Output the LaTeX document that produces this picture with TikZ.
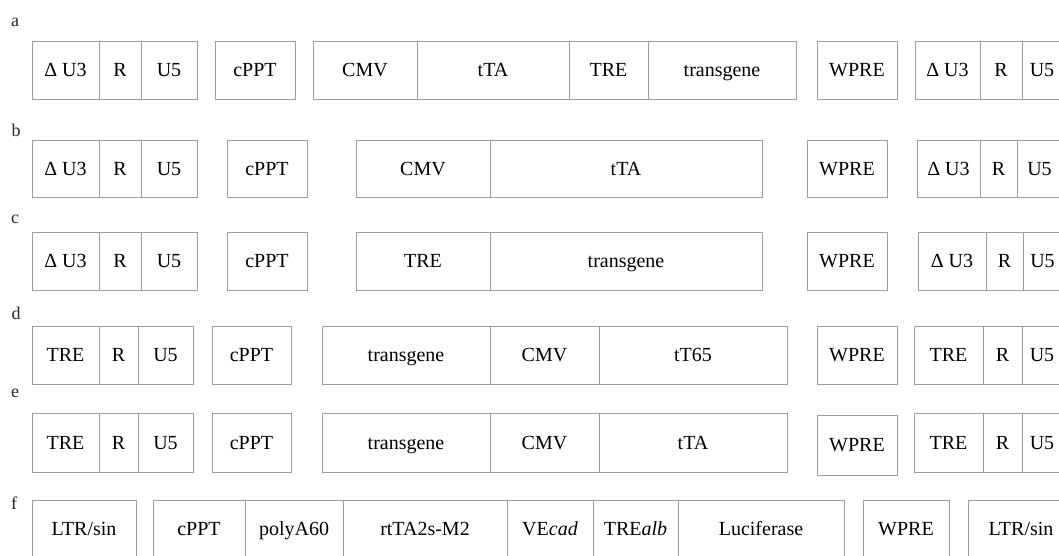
\documentclass[tikz,border=0pt]{standalone}
\usepackage{fontspec}
\setmainfont{Liberation Serif}
\tikzset{
  seg/.style={draw=black!38, line width=0.75pt, inner sep=0pt, rectangle,
    text height=13.2pt, text depth=0pt,
    font=\fontsize{20}{22}\selectfont, text=black},
  rowlabel/.style={inner sep=0pt, font=\fontsize{18}{20}\selectfont, text=black!85}
}
% name, x1, x2, y1, y2, text
\newcommand\segm[6]{%
  \node[seg, minimum width={(#3-#2)*1pt}, minimum height={(#5-#4)*1pt}]
    (#1) at ({(#2+#3)/2},{(#4+#5)/2}) {#6};}
\begin{document}
\begin{tikzpicture}[x=1pt,y=-1pt]
\useasboundingbox (0,0) rectangle (1059,556);
\clip (0,0) rectangle (1059,556);
\fill[white] (0,0) rectangle (1059,556);
% labels
\node[rowlabel] (la) at (15,22) {a};
\node[rowlabel] (lb) at (16,130) {b};
\node[rowlabel] (lc) at (15,219) {c};
\node[rowlabel] (ld) at (16,313) {d};
\node[rowlabel] (le) at (15,393) {e};
\node[rowlabel] (lf) at (14,503) {f};
% row a
\def\ya{41}\def\yb{99}
\segm{a1}{32}{99}{\ya}{\yb}{Δ U3}
\segm{a2}{99}{141}{\ya}{\yb}{R}
\segm{a3}{141}{197}{\ya}{\yb}{U5}
\segm{a4}{215}{295}{\ya}{\yb}{cPPT}
\segm{a5}{313}{417}{\ya}{\yb}{CMV}
\segm{a6}{417}{569}{\ya}{\yb}{tTA}
\segm{a7}{569}{648}{\ya}{\yb}{TRE}
\segm{a8}{648}{796}{\ya}{\yb}{transgene}
\segm{a9}{817}{897}{\ya}{\yb}{WPRE}
\segm{a10}{915}{980}{\ya}{\yb}{Δ U3}
\segm{a11}{980}{1022}{\ya}{\yb}{R}
\segm{a12}{1022}{1062}{\ya}{\yb}{U5}
% row b
\def\ya{140}\def\yb{197}
\segm{b1}{32}{99}{\ya}{\yb}{Δ U3}
\segm{b2}{99}{141}{\ya}{\yb}{R}
\segm{b3}{141}{197}{\ya}{\yb}{U5}
\segm{b4}{227}{307}{\ya}{\yb}{cPPT}
\segm{b5}{356}{490}{\ya}{\yb}{CMV}
\segm{b6}{490}{762}{\ya}{\yb}{tTA}
\segm{b7}{807}{887}{\ya}{\yb}{WPRE}
\segm{b8}{917}{980}{\ya}{\yb}{Δ U3}
\segm{b9}{980}{1017}{\ya}{\yb}{R}
\segm{b10}{1017}{1062}{\ya}{\yb}{U5}
% row c
\def\ya{232}\def\yb{290}
\segm{c1}{32}{99}{\ya}{\yb}{Δ U3}
\segm{c2}{99}{141}{\ya}{\yb}{R}
\segm{c3}{141}{197}{\ya}{\yb}{U5}
\segm{c4}{227}{307}{\ya}{\yb}{cPPT}
\segm{c5}{356}{490}{\ya}{\yb}{TRE}
\segm{c6}{490}{762}{\ya}{\yb}{transgene}
\segm{c7}{807}{887}{\ya}{\yb}{WPRE}
\segm{c8}{918}{986}{\ya}{\yb}{Δ U3}
\segm{c9}{986}{1023}{\ya}{\yb}{R}
\segm{c10}{1023}{1062}{\ya}{\yb}{U5}
% row d
\def\ya{326}\def\yb{384}
\segm{d1}{32}{99}{\ya}{\yb}{TRE}
\segm{d2}{99}{138}{\ya}{\yb}{R}
\segm{d3}{138}{193}{\ya}{\yb}{U5}
\segm{d4}{212}{291}{\ya}{\yb}{cPPT}
\segm{d5}{322}{490}{\ya}{\yb}{transgene}
\segm{d6}{490}{599}{\ya}{\yb}{CMV}
\segm{d7}{599}{787}{\ya}{\yb}{tT65}
\segm{d8}{817}{897}{\ya}{\yb}{WPRE}
\segm{d9}{914}{983}{\ya}{\yb}{TRE}
\segm{d10}{983}{1022}{\ya}{\yb}{R}
\segm{d11}{1022}{1062}{\ya}{\yb}{U5}
% row e
\def\ya{413}\def\yb{472}
\segm{e1}{32}{99}{\ya}{\yb}{TRE}
\segm{e2}{99}{138}{\ya}{\yb}{R}
\segm{e3}{138}{193}{\ya}{\yb}{U5}
\segm{e4}{212}{291}{\ya}{\yb}{cPPT}
\segm{e5}{322}{490}{\ya}{\yb}{transgene}
\segm{e6}{490}{599}{\ya}{\yb}{CMV}
\segm{e7}{599}{787}{\ya}{\yb}{tTA}
\segm{e8}{817}{897}{415}{475}{WPRE}
\segm{e9}{914}{983}{\ya}{\yb}{TRE}
\segm{e10}{983}{1022}{\ya}{\yb}{R}
\segm{e11}{1022}{1062}{\ya}{\yb}{U5}
% row f
\def\ya{500}\def\yb{558}
\segm{f1}{32}{136}{\ya}{\yb}{LTR/sin}
\segm{f2}{153}{245}{\ya}{\yb}{cPPT}
\segm{f3}{245}{343}{\ya}{\yb}{polyA60}
\segm{f4}{343}{507}{\ya}{\yb}{rtTA2s-M2}
\segm{f5}{507}{593}{\ya}{\yb}{VE\textit{cad}}
\segm{f6}{593}{678}{\ya}{\yb}{TRE\textit{alb}}
\segm{f7}{678}{844}{\ya}{\yb}{Luciferase}
\segm{f8}{863}{949}{\ya}{\yb}{WPRE}
\segm{f9}{968}{1074}{\ya}{\yb}{LTR/sin}
\end{tikzpicture}
\end{document}
